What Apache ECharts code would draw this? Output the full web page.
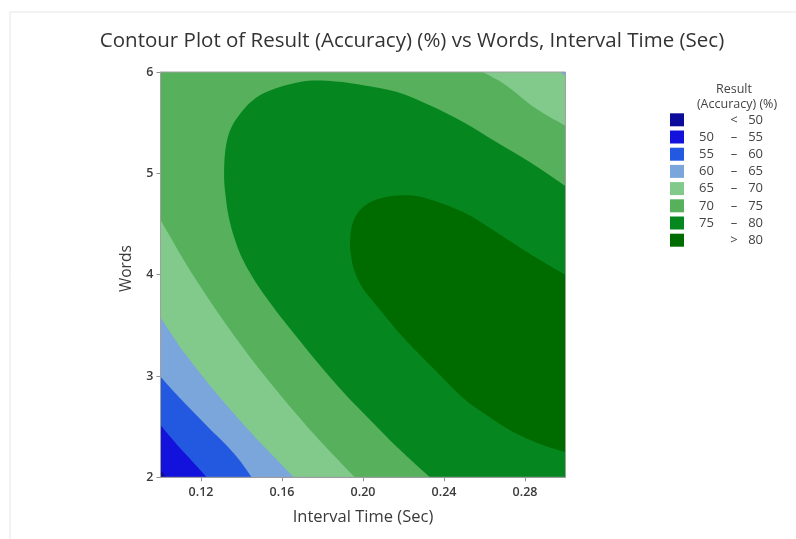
<!DOCTYPE html>
<html>
<head>
<meta charset="utf-8">
<script src="https://cdn.jsdelivr.net/npm/echarts@6/dist/echarts.min.js"></script>
<style>
  html, body { margin: 0; padding: 0; background: #ffffff; }
  #chart { width: 796px; height: 539px; }
</style>
</head>
<body>
<div id="chart"></div>
<script>
// Axis ticks
const xTicks = [0.12, 0.16, 0.20, 0.24, 0.28];
const yTicks = [2, 3, 4, 5, 6];

// Accuracy classes, lowest first
const levelNames = ['< 50', '50 – 55', '55 – 60', '60 – 65', '65 – 70', '70 – 75', '75 – 80', '> 80'];
const levelLabels = [
  [' ', '<', '50'], ['50', '–', '55'], ['55', '–', '60'], ['60', '–', '65'],
  ['65', '–', '70'], ['70', '–', '75'], ['75', '–', '80'], [' ', '>', '80']
];
const levelColors = ['#0c0c9c', '#1212dc', '#2358e0', '#7ba6dc', '#82ca8c', '#56b05c', '#05861f', '#006c00'];

// Contour lines as [Interval Time (Sec), Words] pairs
const contour50 = [[0.100, 2.07], [0.1015, 2.035], [0.1032, 2.0]];
const contour55 = [[0.100, 2.516], [0.1047, 2.403], [0.1096, 2.289], [0.1160, 2.151], [0.1228, 2.0]];
const contour60 = [[0.100, 2.993], [0.1077, 2.822], [0.1162, 2.645], [0.1244, 2.477], [0.1327, 2.314], [0.1393, 2.161], [0.1450, 2.0]];
const contour65 = [[0.100, 3.578], [0.1122, 3.219], [0.1273, 2.837], [0.1452, 2.430], [0.1659, 2.0]];
const contour65Top = [[0.2973, 6.0], [0.300, 5.961]];
const contour70 = [[0.100, 4.540], [0.1162, 3.992], [0.1340, 3.464], [0.1532, 2.957], [0.1739, 2.468], [0.1960, 2.0]];
const contour70Top = [[0.2593, 6.0], [0.2706, 5.870], [0.2854, 5.639], [0.300, 5.468]];
const contour75 = [
  [0.2331, 2.000], [0.2173, 2.289], [0.2035, 2.566], [0.1911, 2.822], [0.1798, 3.079], [0.1689, 3.346],
  [0.1590, 3.593], [0.1516, 3.791], [0.1457, 3.968], [0.1407, 4.146], [0.1368, 4.343], [0.1338, 4.560],
  [0.1321, 4.787], [0.1314, 5.014], [0.1327, 5.310], [0.1376, 5.540], [0.1491, 5.771], [0.1689, 5.902],
  [0.1862, 5.907], [0.2000, 5.870], [0.2164, 5.804], [0.2329, 5.672], [0.2494, 5.507], [0.2658, 5.310],
  [0.2823, 5.113], [0.300, 4.876]
];
const contour80 = [
  [0.300, 2.250], [0.2874, 2.329], [0.2741, 2.447], [0.2617, 2.605], [0.2494, 2.783], [0.2380, 3.010],
  [0.2272, 3.227], [0.2183, 3.415], [0.2109, 3.593], [0.2044, 3.751], [0.1995, 3.879], [0.1956, 4.047],
  [0.1941, 4.195], [0.1936, 4.343], [0.1951, 4.520], [0.1995, 4.658], [0.2074, 4.747], [0.2183, 4.782],
  [0.2306, 4.757], [0.2494, 4.618], [0.2657, 4.421], [0.2825, 4.204], [0.300, 3.997]
];

const xMin = 0.10, xMax = 0.30, yMin = 2, yMax = 6;
const FONT = '"Open Sans", "Noto Sans", sans-serif';
const TEXT = '#3a3a3a';

// Each band is the part of the plot above its lower contour; drawn lowest first.
const rev = a => a.slice().reverse();
const topEdge = [[xMax, yMin], [xMax, yMax], [xMin, yMax]];
const regions = [
  [{ line: [[xMin, yMin], [xMax, yMin], [xMax, yMax], [xMin, yMax]] }],
  [{ curve: contour50 }, { line: topEdge }],
  [{ curve: contour55 }, { line: topEdge }],
  [{ curve: contour60 }, { line: topEdge }],
  [{ curve: contour65 }, { line: [[xMax, yMin]] }, { curve: rev(contour65Top) }, { line: [[xMin, yMax]] }],
  [{ curve: contour70 }, { line: [[xMax, yMin]] }, { curve: rev(contour70Top) }, { line: [[xMin, yMax]] }],
  [{ curve: contour75 }, { line: [[xMax, yMin]] }],
  [{ curve: contour80 }]
];

const f = v => v.toFixed(2);

// Smooth pass through the traced points (Catmull-Rom as cubic Beziers)
function curveCmd(pts, start) {
  let d = (start ? 'M' : 'L') + f(pts[0][0]) + ' ' + f(pts[0][1]);
  for (let i = 0; i < pts.length - 1; i++) {
    const p0 = pts[Math.max(i - 1, 0)], p1 = pts[i], p2 = pts[i + 1], p3 = pts[Math.min(i + 2, pts.length - 1)];
    const c1x = p1[0] + (p2[0] - p0[0]) / 6, c1y = p1[1] + (p2[1] - p0[1]) / 6;
    const c2x = p2[0] - (p3[0] - p1[0]) / 6, c2y = p2[1] - (p3[1] - p1[1]) / 6;
    d += 'C' + f(c1x) + ' ' + f(c1y) + ' ' + f(c2x) + ' ' + f(c2y) + ' ' + f(p2[0]) + ' ' + f(p2[1]);
  }
  return d;
}

function regionPath(parts, api) {
  let d = '';
  parts.forEach((part, k) => {
    if (part.curve) {
      d += curveCmd(part.curve.map(p => api.coord(p)), k === 0);
    } else {
      part.line.forEach((p, j) => {
        const c = api.coord(p);
        d += ((k === 0 && j === 0) ? 'M' : 'L') + f(c[0]) + ' ' + f(c[1]);
      });
    }
  });
  return d + 'Z';
}

const series = levelNames.map((name, i) => ({
  name: name,
  type: 'custom',
  coordinateSystem: 'cartesian2d',
  silent: true,
  itemStyle: { color: levelColors[i] },
  data: [[xMin, yMin]],
  renderItem: function (params, api) {
    const cs = params.coordSys;
    return {
      type: 'path',
      shape: { pathData: regionPath(regions[i], api) },
      style: { fill: levelColors[i], stroke: null },
      clipPath: { type: 'rect', shape: { x: cs.x, y: cs.y, width: cs.width, height: cs.height } }
    };
  },
  z: 2
}));

const chart = echarts.init(document.getElementById('chart'), null, { renderer: 'canvas' });
chart.setOption({
  animation: false,
  backgroundColor: '#ffffff',
  title: {
    text: 'Contour Plot of Result (Accuracy) (%) vs Words, Interval Time (Sec)',
    left: 407,
    top: 26,
    textAlign: 'center',
    textStyle: { fontFamily: FONT, fontSize: 20.5, fontWeight: 'normal', color: '#333333' }
  },
  grid: {
    left: 160.5, right: 230.5, top: 72, bottom: 61.7,
    show: true, borderColor: '#a0a0a0', borderWidth: 1, backgroundColor: 'transparent', z: 3
  },
  xAxis: {
    type: 'value', min: xMin, max: xMax,
    name: 'Interval Time (Sec)', nameLocation: 'middle', nameGap: 31,
    nameTextStyle: { fontFamily: FONT, fontSize: 16.5, color: TEXT },
    axisLine: { show: true, lineStyle: { color: '#a0a0a0' } },
    axisTick: { show: true, length: 4, customValues: xTicks, lineStyle: { color: '#909090' } },
    axisLabel: { customValues: xTicks, margin: 9, formatter: v => v.toFixed(2),
      fontFamily: FONT, fontSize: 12.5, fontWeight: 600, color: TEXT },
    splitLine: { show: false }
  },
  yAxis: {
    type: 'value', min: yMin, max: yMax, interval: 1,
    name: 'Words', nameLocation: 'middle', nameGap: 26, nameRotate: 90,
    nameTextStyle: { fontFamily: FONT, fontSize: 15.5, color: TEXT, padding: [0, 0, 0, 12] },
    axisLine: { show: true, lineStyle: { color: '#a0a0a0' } },
    axisTick: { show: true, length: 4, customValues: yTicks, lineStyle: { color: '#909090' } },
    axisLabel: { customValues: yTicks, margin: 7, fontFamily: FONT, fontSize: 12.5, fontWeight: 600, color: TEXT },
    splitLine: { show: false }
  },
  legend: {
    orient: 'vertical',
    left: 670, top: 113.3, padding: 0,
    itemWidth: 14, itemHeight: 13, itemGap: 4.2,
    icon: 'rect',
    selectedMode: false,
    data: levelNames,
    formatter: function (name) {
      const p = levelLabels[levelNames.indexOf(name)];
      return '{a|' + p[0] + '}{b|' + p[1] + '}{c|' + p[2] + '}';
    },
    textStyle: {
      fontFamily: FONT, fontSize: 13, color: '#444444',
      rich: {
        a: { width: 35, align: 'right', fontFamily: FONT, fontSize: 13, color: '#444444' },
        b: { width: 20, align: 'center', fontFamily: FONT, fontSize: 13, color: '#444444' },
        c: { width: 19, align: 'right', fontFamily: FONT, fontSize: 13, color: '#444444' }
      }
    }
  },
  graphic: [
    { type: 'line', silent: true, shape: { x1: 10, y1: 12, x2: 796, y2: 12 }, style: { stroke: '#e6e6e6', lineWidth: 1 } },
    { type: 'line', silent: true, shape: { x1: 10, y1: 12, x2: 10, y2: 539 }, style: { stroke: '#e6e6e6', lineWidth: 1 } },
    { type: 'text', silent: true, x: 734, y: 89,
      style: { text: 'Result', align: 'center', verticalAlign: 'middle', fontFamily: FONT, fontSize: 12.5, fill: '#444444' } },
    { type: 'text', silent: true, x: 737, y: 104,
      style: { text: '(Accuracy) (%)', align: 'center', verticalAlign: 'middle', fontFamily: FONT, fontSize: 12.5, fill: '#444444' } }
  ],
  series: series
});
</script>
</body>
</html>
